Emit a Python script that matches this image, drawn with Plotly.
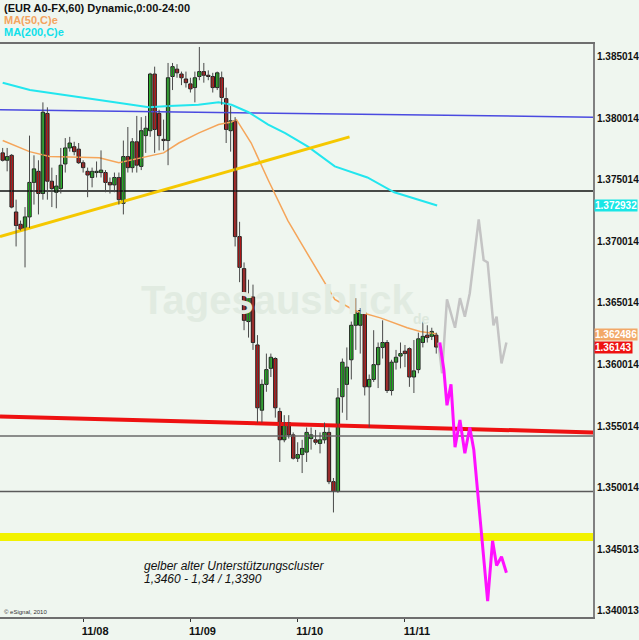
import plotly.graph_objects as go

# ---------------- data (EUR A0-FX, 60 min bars) ----------------
opens = [1.3772, 1.3766, 1.3770, 1.3724, 1.3714, 1.3710, 1.3720, 1.3748, 1.3757, 1.3739,
         1.3804, 1.3749, 1.3740, 1.3743, 1.3763, 1.3776, 1.3777, 1.3775, 1.3764, 1.3757,
         1.3752, 1.3756, 1.3756, 1.3756, 1.3748, 1.3746, 1.3752, 1.3731, 1.3769, 1.3760,
         1.3781, 1.3761, 1.3786, 1.3790, 1.3836, 1.3804, 1.3783, 1.3782, 1.3834, 1.3840,
         1.3836, 1.3832, 1.3828, 1.3825, 1.3834, 1.3838, 1.3835, 1.3834, 1.3825, 1.3833,
         1.3816, 1.3790, 1.3798, 1.3704, 1.3678, 1.3635, 1.3655, 1.3616, 1.3563, 1.3584,
         1.3597, 1.3605, 1.3562, 1.3539, 1.3553, 1.3543, 1.3524, 1.3527, 1.3529, 1.3540,
         1.3539, 1.3536, 1.3539, 1.3545, 1.3505, 1.3497, 1.3574, 1.3584, 1.3604, 1.3632,
         1.3632, 1.3642, 1.3582, 1.3588, 1.3600, 1.3614, 1.3618, 1.3579, 1.3602, 1.3607,
         1.3611, 1.3613, 1.3590, 1.3596, 1.3618, 1.3624, 1.3623, 1.3624]
highs = [1.3776, 1.3776, 1.3771, 1.3734, 1.3717, 1.3728, 1.3786, 1.3770, 1.3766, 1.3813,
         1.3809, 1.3760, 1.3754, 1.3776, 1.3784, 1.3785, 1.3781, 1.3780, 1.3766, 1.3760,
         1.3760, 1.3765, 1.3774, 1.3758, 1.3752, 1.3756, 1.3756, 1.3782, 1.3793, 1.3784,
         1.3802, 1.3801, 1.3802, 1.3837, 1.3842, 1.3807, 1.3799, 1.3845, 1.3845, 1.3844,
         1.3838, 1.3838, 1.3833, 1.3838, 1.3858, 1.3845, 1.3839, 1.3837, 1.3838, 1.3838,
         1.3825, 1.3810, 1.3801, 1.3716, 1.3683, 1.3669, 1.3665, 1.3624, 1.3588, 1.3609,
         1.3609, 1.3606, 1.3565, 1.3559, 1.3559, 1.3545, 1.3537, 1.3539, 1.3549, 1.3549,
         1.3547, 1.3545, 1.3553, 1.3549, 1.3508, 1.3581, 1.3605, 1.3614, 1.3635, 1.3654,
         1.3646, 1.3644, 1.3592, 1.3628, 1.3618, 1.3636, 1.3620, 1.3604, 1.3612, 1.3618,
         1.3616, 1.3614, 1.3620, 1.3626, 1.3635, 1.3632, 1.3630, 1.3626]
lows = [1.3765, 1.3757, 1.3727, 1.3696, 1.3709, 1.3679, 1.3711, 1.3730, 1.3722, 1.3734,
        1.3734, 1.3728, 1.3727, 1.3739, 1.3756, 1.3773, 1.3770, 1.3763, 1.3756, 1.3736,
        1.3744, 1.3752, 1.3752, 1.3740, 1.3739, 1.3740, 1.3730, 1.3722, 1.3756, 1.3756,
        1.3756, 1.3758, 1.3772, 1.3785, 1.3772, 1.3774, 1.3774, 1.3762, 1.3823, 1.3833,
        1.3827, 1.3825, 1.3821, 1.3813, 1.3831, 1.3829, 1.3831, 1.3821, 1.3823, 1.3811,
        1.3780, 1.3773, 1.3696, 1.3667, 1.3628, 1.3622, 1.3612, 1.3553, 1.3553, 1.3578,
        1.3590, 1.3557, 1.3521, 1.3537, 1.3540, 1.3523, 1.3521, 1.3512, 1.3521, 1.3531,
        1.3535, 1.3528, 1.3536, 1.3503, 1.3480, 1.3496, 1.3561, 1.3555, 1.3588, 1.3612,
        1.3609, 1.3575, 1.3549, 1.3586, 1.3581, 1.3605, 1.3577, 1.3575, 1.3596, 1.3597,
        1.3598, 1.3582, 1.3577, 1.3593, 1.3614, 1.3618, 1.3620, 1.3609]
closes = [1.3766, 1.3769, 1.3728, 1.3713, 1.3710, 1.3720, 1.3748, 1.3759, 1.3739, 1.3805,
          1.3749, 1.3743, 1.3745, 1.3762, 1.3776, 1.3780, 1.3773, 1.3764, 1.3760, 1.3754,
          1.3757, 1.3757, 1.3758, 1.3748, 1.3746, 1.3752, 1.3734, 1.3769, 1.3760, 1.3781,
          1.3762, 1.3790, 1.3792, 1.3836, 1.3791, 1.3786, 1.3782, 1.3833, 1.3842, 1.3837,
          1.3833, 1.3829, 1.3824, 1.3833, 1.3838, 1.3835, 1.3834, 1.3825, 1.3837, 1.3817,
          1.3791, 1.3798, 1.3704, 1.3679, 1.3636, 1.3655, 1.3618, 1.3565, 1.3584, 1.3596,
          1.3606, 1.3565, 1.3539, 1.3553, 1.3543, 1.3524, 1.3527, 1.3532, 1.3545, 1.3543,
          1.3537, 1.3539, 1.3545, 1.3505, 1.3497, 1.3573, 1.3602, 1.3598, 1.3632, 1.3642,
          1.3644, 1.3582, 1.3588, 1.3600, 1.3614, 1.3618, 1.3579, 1.3602, 1.3606, 1.3609,
          1.3609, 1.3590, 1.3595, 1.3621, 1.3623, 1.3622, 1.3627, 1.36143]

# moving averages (bar index, value)
ma50_x = [0, 6, 10.5, 21.6, 26, 32.7, 36, 39.4, 43.8, 48.3, 51.2, 52.3, 55.6, 59.4,
          63.8, 67.2, 71.6, 74.3, 78.7, 84.5, 90.5, 93.4, 97.2]
ma50_y = [1.3782, 1.3773, 1.3769, 1.3768, 1.3764, 1.3769, 1.3772, 1.3780, 1.3788, 1.3795,
          1.3797, 1.3799, 1.3780, 1.3750, 1.3717, 1.3696, 1.3669, 1.3653, 1.3644, 1.3638,
          1.3630, 1.3627, 1.362486]
ma200_x = [0, 6.1, 21.6, 28.3, 32.7, 37.2, 43.8, 48.3, 51.2, 55, 59.4, 63.2, 68.3, 74.3,
           81.6, 87.6, 92.7, 97.2]
ma200_y = [1.3829, 1.3823, 1.3815, 1.3811, 1.3809, 1.3810, 1.3811, 1.3813, 1.3811, 1.3805,
           1.3795, 1.3788, 1.3777, 1.3761, 1.3752, 1.3740, 1.3734, 1.372932]

# drawn lines
blue_line_x = [-0.6, 132.1]
blue_line_y = [1.3807, 1.3801]
red_line_x = [-0.6, 132.1]
red_line_y = [1.3558, 1.3545]
trend_x = [-0.6, 77.6]
trend_y = [1.3704, 1.3785]
black_level = 1.3741
gray_levels = [1.3542, 1.3497]
yellow_cluster = 1.3460

# projections
gray_fc_x = [97.5, 98.3, 99.4, 101.2, 102.3, 103.4, 104.5, 106.5, 107.6, 108.5, 109.8,
             110.5, 111.6, 112.7]
gray_fc_y = [1.3618, 1.3593, 1.3653, 1.3630, 1.3654, 1.3639, 1.3658, 1.3718, 1.3685,
             1.3683, 1.3632, 1.3639, 1.3601, 1.3618]
pink_fc_x = [97.8, 98.7, 99.4, 100.3, 101.2, 102.3, 103.4, 104.5, 105.4, 107.2, 108.5,
             109.6, 110.5, 111.6, 112.7]
pink_fc_y = [1.3618, 1.3596, 1.3567, 1.3584, 1.3533, 1.3555, 1.3528, 1.3549, 1.3531,
             1.3458, 1.3408, 1.3457, 1.3437, 1.3444, 1.3431]

# axes
day_ticks = [18, 42, 66, 90]
day_labels = ["11/08", "11/09", "11/10", "11/11"]
price_ticks = [1.385014, 1.380014, 1.375014, 1.370014, 1.365014, 1.360014,
               1.355014, 1.350014, 1.345013, 1.340013]
price_labels = ["1.385014", "1.380014", "1.375014", "1.370014", "1.365014", "1.360014",
                "1.355014", "1.350014", "1.345013", "1.340013"]
tag_values = [1.372932, 1.362486, 1.36143]
tag_texts = ["1.372932", "1.362486", "1.36143"]
tag_colors = ["#19e6e6", "#f2a868", "#ee1111"]

X_RANGE = [-0.6, 132.07]
Y_RANGE = [1.33951, 1.38604]
BG = "#eff6ef"
FONT = "Liberation Sans, Arial, sans-serif"

fig = go.Figure()

def hline(xs, ys, color, width):
    fig.add_trace(go.Scatter(x=xs, y=ys, mode="lines",
                             line=dict(color=color, width=width),
                             hoverinfo="skip", showlegend=False))

# horizontal levels
hline([-2, 135], [yellow_cluster, yellow_cluster], "#f2f200", 8)
hline([-2, 135], [gray_levels[0], gray_levels[0]], "#6a6a6a", 1.5)
hline([-2, 135], [gray_levels[1], gray_levels[1]], "#5a5a5a", 1.5)
hline([-2, 135], [black_level, black_level], "#111111", 1.5)
hline(blue_line_x, blue_line_y, "#4a4ae0", 1.5)
hline(red_line_x, red_line_y, "#ee1111", 4)

# moving averages
hline(ma200_x, ma200_y, "#22e6ee", 2)
hline(ma50_x, ma50_y, "#f5a55a", 1.5)

# trend line
hline(trend_x, trend_y, "#f5c800", 3)

# candles: wicks
idx = list(range(len(opens)))
wx, wy = [], []
for i in idx:
    wx += [i, i, None]
    wy += [lows[i], highs[i], None]
fig.add_trace(go.Scatter(x=wx, y=wy, mode="lines", line=dict(color="#4a4a4a", width=1),
                         hoverinfo="skip", showlegend=False))

# candles: bodies
for up, color in ((True, "#1ee01e"), (False, "#e81010")):
    xs, base, h = [], [], []
    for i in idx:
        if (closes[i] >= opens[i]) == up:
            xs.append(i)
            base.append(min(opens[i], closes[i]))
            h.append(max(abs(closes[i] - opens[i]), 0.00004))
    fig.add_trace(go.Bar(x=xs, y=h, base=base, width=0.75,
                         marker=dict(color=color, line=dict(color="#1a1a1a", width=1)),
                         hoverinfo="skip", showlegend=False))

# projections
hline(gray_fc_x, gray_fc_y, "#c4c4c4", 2.5)
hline(pink_fc_x, pink_fc_y, "#ff10ff", 3)

ann = []
# legend texts
ann.append(dict(text="(EUR A0-FX,60) Dynamic,0:00-24:00", x=0.003, y=1.0628,
                font=dict(color="#111111", size=11, family=FONT, weight="bold")))
ann.append(dict(text="MA(50,C)e", x=0.003, y=1.0419,
                font=dict(color="#f4a460", size=11, family=FONT, weight="bold")))
ann.append(dict(text="MA(200,C)e", x=0.003, y=1.021,
                font=dict(color="#10e0ea", size=11, family=FONT, weight="bold")))
for a in ann:
    a.update(xref="paper", yref="paper", xanchor="left", yanchor="middle", showarrow=False)

# watermark
ann.append(dict(text="Tagesausblick", x=0.468, y=0.553, xref="paper", yref="paper",
                showarrow=False, xanchor="center", yanchor="middle",
                font=dict(color="#e1ebe1", size=40, family=FONT, weight="bold")))
ann.append(dict(text="de", x=0.71, y=0.52, xref="paper", yref="paper",
                showarrow=False, xanchor="center", yanchor="middle",
                font=dict(color="#dde8dd", size=14, family=FONT, weight="bold")))

# commentary
ann.append(dict(text="gelber alter Unterstützungscluster", x=0.2395, y=0.089,
                xref="paper", yref="paper", showarrow=False, xanchor="left", yanchor="middle",
                font=dict(color="#111111", size=12, family=FONT, style="italic")))
ann.append(dict(text="1,3460 - 1,34 / 1,3390", x=0.2395, y=0.0663,
                xref="paper", yref="paper", showarrow=False, xanchor="left", yanchor="middle",
                font=dict(color="#111111", size=12, family=FONT, style="italic")))
ann.append(dict(text="© eSignal, 2010", x=0.004, y=0.0095, xref="paper", yref="paper",
                showarrow=False, xanchor="left", yanchor="middle",
                font=dict(color="#333333", size=6, family=FONT)))

# price tags on the right axis
for v, t, c in zip(tag_values, tag_texts, tag_colors):
    ann.append(dict(text=t, x=1.0, y=v, xref="paper", yref="y", xanchor="left",
                    yanchor="middle", xshift=1, showarrow=False, bgcolor=c, borderpad=0,
                    font=dict(color="white", size=10, family=FONT, weight="bold")))

fig.update_layout(
    width=639, height=640,
    margin=dict(l=0, r=42, t=44, b=23),
    paper_bgcolor=BG, plot_bgcolor=BG,
    barmode="overlay", showlegend=False,
    annotations=ann,
    xaxis=dict(range=X_RANGE, showgrid=False, zeroline=False,
               tickvals=day_ticks, ticktext=day_labels, ticks="outside", ticklen=3,
               tickcolor="#333333", ticklabelshift=12, ticklabelstandoff=0,
               tickfont=dict(size=11, color="#111111", family=FONT, weight="bold"),
               showline=True, linecolor="#6e6e6e", linewidth=2, mirror=True),
    yaxis=dict(range=Y_RANGE, side="right", showgrid=False, zeroline=False,
               tickvals=price_ticks, ticktext=price_labels, ticks="",
               tickfont=dict(size=10, color="#111111", family=FONT, weight="bold"),
               showline=True, linecolor="#808080", linewidth=2, mirror=False),
)

fig.write_html("out.html", config={"displayModeBar": False},
               post_script="document.body.style.margin='0px';document.body.style.background='%s';" % BG)
